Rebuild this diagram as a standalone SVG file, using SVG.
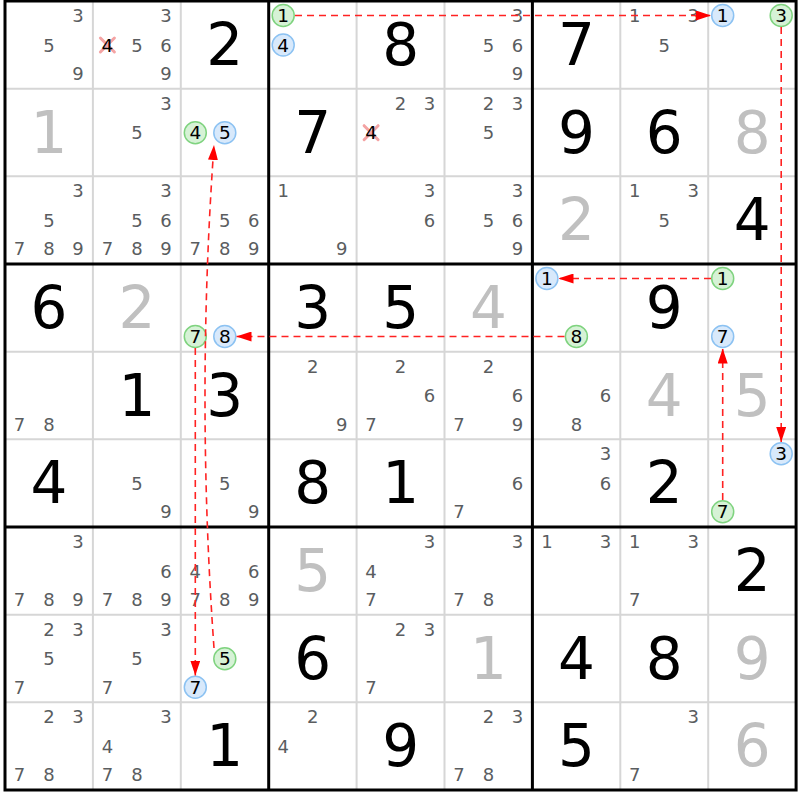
<svg xmlns="http://www.w3.org/2000/svg" width="800" height="800" viewBox="0 0 800 800">
<style>
text{font-family:"DejaVu Sans","Liberation Sans",sans-serif;text-anchor:middle}
.c{font-size:18px;fill:#5a5d5f}
.l{font-size:18.5px;fill:#000}
.g{font-size:58px;fill:#000}
.s{font-size:58px;fill:#c0c0c0}
.cg{fill:#d6f2d6;stroke:#7fd37f;stroke-width:1.5}
.cb{fill:#d8e9fb;stroke:#8cc2f2;stroke-width:1.5}
.x{stroke:#f4a3a3;stroke-width:3;stroke-linecap:round}
.thin{stroke:#d6d6d6;stroke-width:2}
.thick{stroke:#000;stroke-width:3}
.con{fill:none;stroke:#f22;stroke-width:1.6;stroke-dasharray:7 5}
</style>
<defs>
<marker id="ah" viewBox="0 0 15 10" refX="15" refY="5" markerWidth="15" markerHeight="10" markerUnits="userSpaceOnUse" orient="auto"><path d="M0,0 L15,5 L0,10 z" fill="#f00"/></marker>
</defs>
<rect width="800" height="800" fill="#fff"/>
<g id="grid">
<path class="thin" d="M92.9,1V790M180.8,1V790M356.6,1V790M444.5,1V790M620.3,1V790M708.2,1V790M5,88.67H796M5,176.33H796M5,351.67H796M5,439.33H796M5,614.67H796M5,702.33H796"/>
<path class="thick" d="M268.7,1V790M532.4,1V790M5,264H796M5,527H796"/>
<rect class="thick" x="5" y="1" width="791.1" height="789" fill="none"/>
</g>
<g id="r1c1"><text class="c" x="78" y="22">3</text><text class="c" x="49" y="51.5">5</text><text class="c" x="78" y="80">9</text></g>
<g id="r1c2"><text class="c" x="165.9" y="22">3</text><path class="x" d="M100.4,38L114.4,52M100.4,52L114.4,38"/><text class="l" x="107.4" y="51.5">4</text><text class="c" x="136.9" y="51.5">5</text><text class="c" x="165.9" y="51.5">6</text><text class="c" x="165.9" y="80">9</text></g>
<g id="r1c3"><text class="g" x="224.8" y="64.8">2</text></g>
<g id="r1c4"><circle class="cg" cx="283.2" cy="15.5" r="11"/><text class="l" x="283.2" y="22">1</text><circle class="cb" cx="283.2" cy="45" r="11"/><text class="l" x="283.2" y="51.5">4</text></g>
<g id="r1c5"><text class="g" x="400.6" y="64.8">8</text></g>
<g id="r1c6"><text class="c" x="517.5" y="22">3</text><text class="c" x="488.5" y="51.5">5</text><text class="c" x="517.5" y="51.5">6</text><text class="c" x="517.5" y="80">9</text></g>
<g id="r1c7"><text class="g" x="576.4" y="64.8">7</text></g>
<g id="r1c8"><text class="c" x="634.8" y="22">1</text><text class="c" x="693.3" y="22">3</text><text class="c" x="664.3" y="51.5">5</text></g>
<g id="r1c9"><circle class="cb" cx="722.7" cy="15.5" r="11"/><text class="l" x="722.7" y="22">1</text><circle class="cg" cx="781.2" cy="15.5" r="11"/><text class="l" x="781.2" y="22">3</text></g>
<g id="r2c1"><text class="s" x="49" y="152.5">1</text></g>
<g id="r2c2"><text class="c" x="165.9" y="109.7">3</text><text class="c" x="136.9" y="139.2">5</text></g>
<g id="r2c3"><circle class="cg" cx="195.3" cy="132.7" r="11"/><text class="l" x="195.3" y="139.2">4</text><circle class="cb" cx="224.8" cy="132.7" r="11"/><text class="l" x="224.8" y="139.2">5</text></g>
<g id="r2c4"><text class="g" x="312.7" y="152.5">7</text></g>
<g id="r2c5"><text class="c" x="400.6" y="109.7">2</text><text class="c" x="429.6" y="109.7">3</text><path class="x" d="M364.1,125.7L378.1,139.7M364.1,139.7L378.1,125.7"/><text class="l" x="371.1" y="139.2">4</text></g>
<g id="r2c6"><text class="c" x="488.5" y="109.7">2</text><text class="c" x="517.5" y="109.7">3</text><text class="c" x="488.5" y="139.2">5</text></g>
<g id="r2c7"><text class="g" x="576.4" y="152.5">9</text></g>
<g id="r2c8"><text class="g" x="664.3" y="152.5">6</text></g>
<g id="r2c9"><text class="s" x="752.2" y="152.5">8</text></g>
<g id="r3c1"><text class="c" x="78" y="197.3">3</text><text class="c" x="49" y="226.8">5</text><text class="c" x="19.5" y="255.3">7</text><text class="c" x="49" y="255.3">8</text><text class="c" x="78" y="255.3">9</text></g>
<g id="r3c2"><text class="c" x="165.9" y="197.3">3</text><text class="c" x="136.9" y="226.8">5</text><text class="c" x="165.9" y="226.8">6</text><text class="c" x="107.4" y="255.3">7</text><text class="c" x="136.9" y="255.3">8</text><text class="c" x="165.9" y="255.3">9</text></g>
<g id="r3c3"><text class="c" x="224.8" y="226.8">5</text><text class="c" x="253.8" y="226.8">6</text><text class="c" x="195.3" y="255.3">7</text><text class="c" x="224.8" y="255.3">8</text><text class="c" x="253.8" y="255.3">9</text></g>
<g id="r3c4"><text class="c" x="283.2" y="197.3">1</text><text class="c" x="341.7" y="255.3">9</text></g>
<g id="r3c5"><text class="c" x="429.6" y="197.3">3</text><text class="c" x="429.6" y="226.8">6</text></g>
<g id="r3c6"><text class="c" x="517.5" y="197.3">3</text><text class="c" x="488.5" y="226.8">5</text><text class="c" x="517.5" y="226.8">6</text><text class="c" x="517.5" y="255.3">9</text></g>
<g id="r3c7"><text class="s" x="576.4" y="240.2">2</text></g>
<g id="r3c8"><text class="c" x="634.8" y="197.3">1</text><text class="c" x="693.3" y="197.3">3</text><text class="c" x="664.3" y="226.8">5</text></g>
<g id="r3c9"><text class="g" x="752.2" y="240.2">4</text></g>
<g id="r4c1"><text class="g" x="49" y="327.8">6</text></g>
<g id="r4c2"><text class="s" x="136.9" y="327.8">2</text></g>
<g id="r4c3"><circle class="cg" cx="195.3" cy="336.5" r="11"/><text class="l" x="195.3" y="343">7</text><circle class="cb" cx="224.8" cy="336.5" r="11"/><text class="l" x="224.8" y="343">8</text></g>
<g id="r4c4"><text class="g" x="312.7" y="327.8">3</text></g>
<g id="r4c5"><text class="g" x="400.6" y="327.8">5</text></g>
<g id="r4c6"><text class="s" x="488.5" y="327.8">4</text></g>
<g id="r4c7"><circle class="cb" cx="546.9" cy="278.5" r="11"/><text class="l" x="546.9" y="285">1</text><circle class="cg" cx="576.4" cy="336.5" r="11"/><text class="l" x="576.4" y="343">8</text></g>
<g id="r4c8"><text class="g" x="664.3" y="327.8">9</text></g>
<g id="r4c9"><circle class="cg" cx="722.7" cy="278.5" r="11"/><text class="l" x="722.7" y="285">1</text><circle class="cb" cx="722.7" cy="336.5" r="11"/><text class="l" x="722.7" y="343">7</text></g>
<g id="r5c1"><text class="c" x="19.5" y="430.7">7</text><text class="c" x="49" y="430.7">8</text></g>
<g id="r5c2"><text class="g" x="136.9" y="415.5">1</text></g>
<g id="r5c3"><text class="g" x="224.8" y="415.5">3</text></g>
<g id="r5c4"><text class="c" x="312.7" y="372.7">2</text><text class="c" x="341.7" y="430.7">9</text></g>
<g id="r5c5"><text class="c" x="400.6" y="372.7">2</text><text class="c" x="429.6" y="402.2">6</text><text class="c" x="371.1" y="430.7">7</text></g>
<g id="r5c6"><text class="c" x="488.5" y="372.7">2</text><text class="c" x="517.5" y="402.2">6</text><text class="c" x="459" y="430.7">7</text><text class="c" x="517.5" y="430.7">9</text></g>
<g id="r5c7"><text class="c" x="605.4" y="402.2">6</text><text class="c" x="576.4" y="430.7">8</text></g>
<g id="r5c8"><text class="s" x="664.3" y="415.5">4</text></g>
<g id="r5c9"><text class="s" x="752.2" y="415.5">5</text></g>
<g id="r6c1"><text class="g" x="49" y="503.2">4</text></g>
<g id="r6c2"><text class="c" x="136.9" y="489.8">5</text><text class="c" x="165.9" y="518.3">9</text></g>
<g id="r6c3"><text class="c" x="224.8" y="489.8">5</text><text class="c" x="253.8" y="518.3">9</text></g>
<g id="r6c4"><text class="g" x="312.7" y="503.2">8</text></g>
<g id="r6c5"><text class="g" x="400.6" y="503.2">1</text></g>
<g id="r6c6"><text class="c" x="517.5" y="489.8">6</text><text class="c" x="459" y="518.3">7</text></g>
<g id="r6c7"><text class="c" x="605.4" y="460.3">3</text><text class="c" x="605.4" y="489.8">6</text></g>
<g id="r6c8"><text class="g" x="664.3" y="503.2">2</text></g>
<g id="r6c9"><circle class="cb" cx="781.2" cy="453.8" r="11"/><text class="l" x="781.2" y="460.3">3</text><circle class="cg" cx="722.7" cy="511.8" r="11"/><text class="l" x="722.7" y="518.3">7</text></g>
<g id="r7c1"><text class="c" x="78" y="548">3</text><text class="c" x="19.5" y="606">7</text><text class="c" x="49" y="606">8</text><text class="c" x="78" y="606">9</text></g>
<g id="r7c2"><text class="c" x="165.9" y="577.5">6</text><text class="c" x="107.4" y="606">7</text><text class="c" x="136.9" y="606">8</text><text class="c" x="165.9" y="606">9</text></g>
<g id="r7c3"><text class="c" x="195.3" y="577.5">4</text><text class="c" x="253.8" y="577.5">6</text><text class="c" x="195.3" y="606">7</text><text class="c" x="224.8" y="606">8</text><text class="c" x="253.8" y="606">9</text></g>
<g id="r7c4"><text class="s" x="312.7" y="590.8">5</text></g>
<g id="r7c5"><text class="c" x="429.6" y="548">3</text><text class="c" x="371.1" y="577.5">4</text><text class="c" x="371.1" y="606">7</text></g>
<g id="r7c6"><text class="c" x="517.5" y="548">3</text><text class="c" x="459" y="606">7</text><text class="c" x="488.5" y="606">8</text></g>
<g id="r7c7"><text class="c" x="546.9" y="548">1</text><text class="c" x="605.4" y="548">3</text></g>
<g id="r7c8"><text class="c" x="634.8" y="548">1</text><text class="c" x="693.3" y="548">3</text><text class="c" x="634.8" y="606">7</text></g>
<g id="r7c9"><text class="g" x="752.2" y="590.8">2</text></g>
<g id="r8c1"><text class="c" x="49" y="635.7">2</text><text class="c" x="78" y="635.7">3</text><text class="c" x="49" y="665.2">5</text><text class="c" x="19.5" y="693.7">7</text></g>
<g id="r8c2"><text class="c" x="165.9" y="635.7">3</text><text class="c" x="136.9" y="665.2">5</text><text class="c" x="107.4" y="693.7">7</text></g>
<g id="r8c3"><circle class="cg" cx="224.8" cy="658.7" r="11"/><text class="l" x="224.8" y="665.2">5</text><circle class="cb" cx="195.3" cy="687.2" r="11"/><text class="l" x="195.3" y="693.7">7</text></g>
<g id="r8c4"><text class="g" x="312.7" y="678.5">6</text></g>
<g id="r8c5"><text class="c" x="400.6" y="635.7">2</text><text class="c" x="429.6" y="635.7">3</text><text class="c" x="371.1" y="693.7">7</text></g>
<g id="r8c6"><text class="s" x="488.5" y="678.5">1</text></g>
<g id="r8c7"><text class="g" x="576.4" y="678.5">4</text></g>
<g id="r8c8"><text class="g" x="664.3" y="678.5">8</text></g>
<g id="r8c9"><text class="s" x="752.2" y="678.5">9</text></g>
<g id="r9c1"><text class="c" x="49" y="723.3">2</text><text class="c" x="78" y="723.3">3</text><text class="c" x="19.5" y="781.3">7</text><text class="c" x="49" y="781.3">8</text></g>
<g id="r9c2"><text class="c" x="165.9" y="723.3">3</text><text class="c" x="107.4" y="752.8">4</text><text class="c" x="107.4" y="781.3">7</text><text class="c" x="136.9" y="781.3">8</text></g>
<g id="r9c3"><text class="g" x="224.8" y="766.2">1</text></g>
<g id="r9c4"><text class="c" x="312.7" y="723.3">2</text><text class="c" x="283.2" y="752.8">4</text></g>
<g id="r9c5"><text class="g" x="400.6" y="766.2">9</text></g>
<g id="r9c6"><text class="c" x="488.5" y="723.3">2</text><text class="c" x="517.5" y="723.3">3</text><text class="c" x="459" y="781.3">7</text><text class="c" x="488.5" y="781.3">8</text></g>
<g id="r9c7"><text class="g" x="576.4" y="766.2">5</text></g>
<g id="r9c8"><text class="c" x="693.3" y="723.3">3</text><text class="c" x="634.8" y="781.3">7</text></g>
<g id="r9c9"><text class="s" x="752.2" y="766.2">6</text></g>
<g id="connectors">
<path class="con" marker-end="url(#ah)" d="M295,15.5H711"/>
<path class="con" marker-end="url(#ah)" d="M781.2,27V442"/>
<path class="con" marker-end="url(#ah)" d="M711,278.5H558.5"/>
<path class="con" marker-end="url(#ah)" d="M564.5,336.5H236.5"/>
<path class="con" marker-end="url(#ah)" d="M722.7,500V348.5"/>
<path class="con" marker-end="url(#ah)" d="M195.3,348V675.5"/>
<path class="con" marker-end="url(#ah)" d="M214,648Q196,397 214,145"/>
</g>
</svg>
